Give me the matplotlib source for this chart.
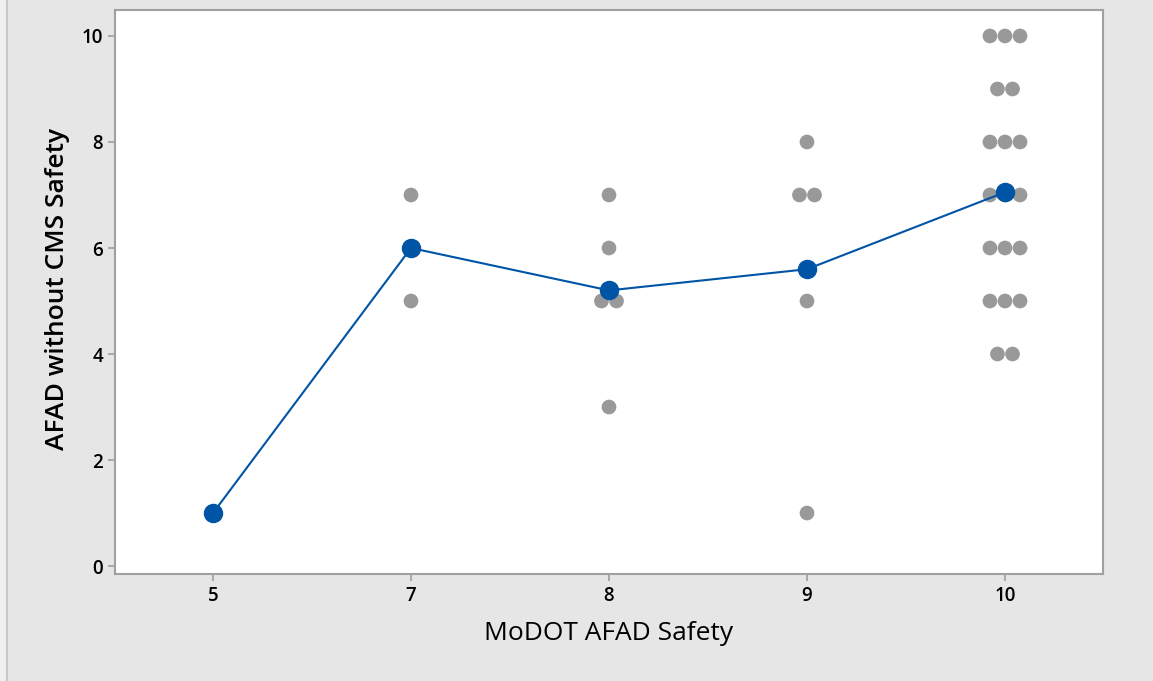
import matplotlib
matplotlib.use("Agg")
import matplotlib.pyplot as plt
from matplotlib.lines import Line2D
import numpy as np

categories = ["5", "7", "8", "9", "10"]
values_5 = [1]
values_7 = [7, 5]
values_8 = [7, 6, 5, 5, 3]
values_9 = [8, 7, 7, 5, 1]
values_10 = [10, 10, 10, 9, 9, 8, 8, 8, 7, 7, 7, 6, 6, 6, 5, 5, 5, 4, 4]
groups = [values_5, values_7, values_8, values_9, values_10]
yticks = [0, 2, 4, 6, 8, 10]

plt.rcParams['font.family'] = ['Open Sans', 'DejaVu Sans']

fig = plt.figure(figsize=(11.53, 6.81), dpi=100)
fig.patch.set_facecolor('#e6e6e6')
ax = fig.add_axes([115/1153, 1-574/681, (1103-115)/1153, (574-10)/681])
ax.set_facecolor('white')

gray = '#999999'
blue = '#0054a6'
step = 0.076
means = []
for i, vals in enumerate(groups):
    vals = np.array(vals, dtype=float)
    means.append(vals.mean())
    for v in np.unique(vals):
        n = int((vals == v).sum())
        offs = (np.arange(n) - (n - 1) / 2) * step
        ax.scatter(i + offs, [v] * n, s=112, color=gray, edgecolors='none', zorder=2)

xs = np.arange(len(categories))
ax.plot(xs, means, color=blue, lw=1.5, zorder=3)
ax.plot(xs, means, 'o', color=blue, ms=13, mec=blue, zorder=4)

ax.set_xlim(-0.495, 4.495)
ax.set_ylim(-0.15, 10.49)
ax.set_xticks(xs)
ax.set_xticklabels(categories)
ax.set_yticks(yticks)
for sp in ax.spines.values():
    sp.set_color('#a0a0a0')
    sp.set_linewidth(1.5)
ax.tick_params(axis='both', colors='#a0a0a0', length=5, width=1.2, labelcolor='black', labelsize=13.5)
for lab in ax.get_xticklabels() + ax.get_yticklabels():
    lab.set_fontweight('semibold')
ax.set_xlabel('MoDOT AFAD Safety', fontsize=19)
ax.set_ylabel('AFAD without CMS Safety', fontsize=19, fontweight='semibold')
ax.xaxis.set_label_coords(0.5, (574 - 634) / 564)
ax.xaxis.label.set_va('center')
ax.yaxis.set_label_coords((58 - 115) / 988, (574 - 289) / 564)
ax.yaxis.label.set_va('center')

fig.add_artist(Line2D([6.5/1153, 6.5/1153], [0, 1], color='#c8c8c8', lw=1.5, transform=fig.transFigure))
fig.add_artist(matplotlib.patches.Rectangle((0, 0), 6/1153, 1, color='#f0f0f0', transform=fig.transFigure, zorder=-1))

fig.savefig('out.png', dpi=100, facecolor=fig.get_facecolor())
